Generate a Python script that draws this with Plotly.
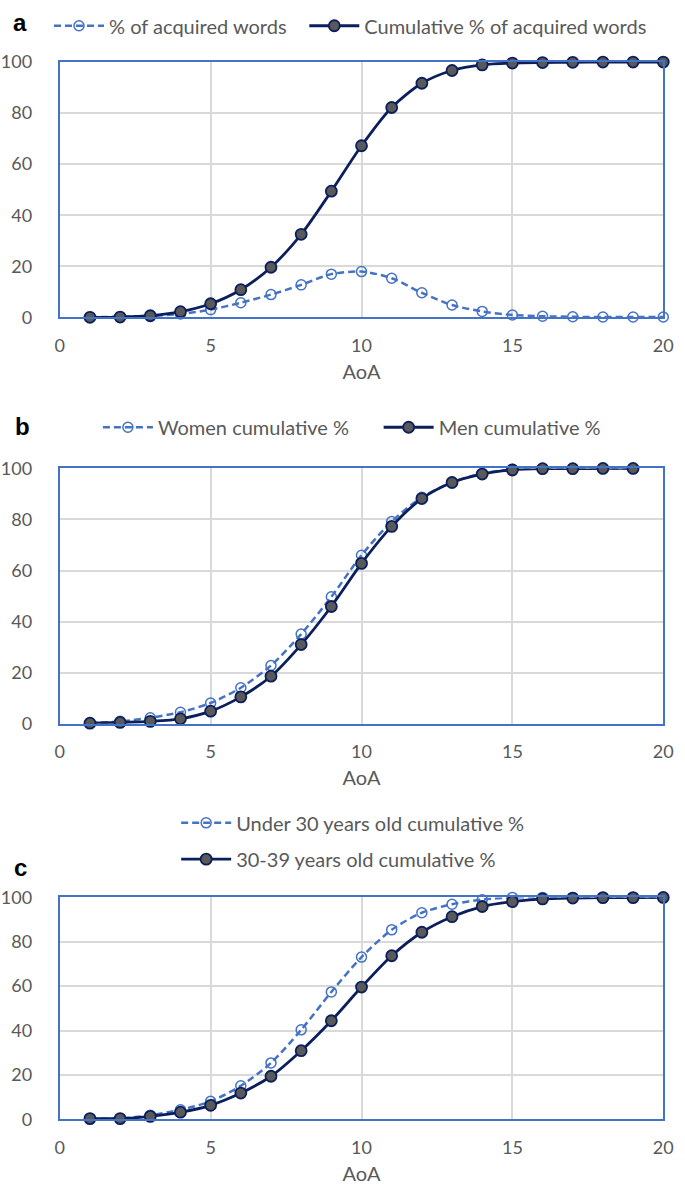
import plotly.graph_objects as go

# ---------------- data ----------------
aoa = list(range(1, 21))
pct_acquired = [0.1, 0.2, 0.5, 1.3, 3.0, 5.7, 8.9, 12.7, 16.9, 17.9,
                15.3, 9.6, 4.8, 2.3, 0.9, 0.4, 0.2, 0.1, 0.1, 0.1]
cum_acquired = [0.0, 0.1, 0.6, 2.2, 5.3, 10.8, 19.6, 32.5, 49.4, 67.2,
                82.2, 91.7, 96.7, 98.9, 99.6, 99.8, 99.9, 100, 100, 100]

aoa_b = list(range(1, 20))
women_cum = [0.3, 0.9, 2.3, 4.5, 8.1, 14.1, 22.8, 35.1, 49.7, 66.0,
             79.2, 88.7, 94.6, 98.0, 99.7, 100, 100, 100, 100]
men_cum = [0.2, 0.5, 0.9, 1.9, 4.9, 10.5, 18.6, 31.0, 45.9, 62.8,
           77.3, 88.2, 94.5, 97.8, 99.4, 99.9, 99.9, 100, 100]

under30_cum = [0.3, 0.4, 1.8, 4.3, 8.1, 15.1, 25.4, 40.3, 57.4, 73.1,
               85.4, 93.1, 96.9, 99.0, 100, 100, 100, 100, 100, 100]
age30_39_cum = [0.3, 0.3, 1.3, 3.2, 6.3, 11.8, 19.4, 30.9, 44.4, 59.6,
                73.7, 84.3, 91.3, 95.9, 98.1, 99.3, 99.7, 99.9, 99.9, 100]

x_ticks = [0, 5, 10, 15, 20]
y_ticks = [0, 20, 40, 60, 80, 100]

# ---------------- styles ----------------
W, H = 685, 1197
BLUE = "#4472C4"
NAVY = "#0B1F5C"
GREY_FILL = "#595959"
TXT = "#595959"
GRID = "#D9D9D9"
FONT = "Lato"


def py(px):
    return 1 - px / H


def px_(x):
    return x / W


def dashed(x, y, name, xa, ya, legend):
    return go.Scatter(
        x=x, y=y, name=name, xaxis=xa, yaxis=ya, legend=legend,
        mode="lines+markers", cliponaxis=False,
        line=dict(color=BLUE, width=2.5, dash="7px,4px", shape="spline", smoothing=0.8),
        marker=dict(symbol="circle-open", size=10, color=BLUE, line=dict(width=1.5, color=BLUE)),
    )


def solid(x, y, name, xa, ya, legend):
    return go.Scatter(
        x=x, y=y, name=name, xaxis=xa, yaxis=ya, legend=legend,
        mode="lines+markers", cliponaxis=False,
        line=dict(color=NAVY, width=2.8, shape="spline", smoothing=0.8),
        marker=dict(symbol="circle", size=11, color=GREY_FILL, line=dict(width=1.8, color=NAVY)),
    )


fig = go.Figure()
fig.add_trace(dashed(aoa, pct_acquired, "% of acquired words", "x", "y", "legend"))
fig.add_trace(solid(aoa, cum_acquired, "Cumulative % of acquired words", "x", "y", "legend2"))
fig.add_trace(dashed(aoa_b, women_cum, "Women cumulative %", "x2", "y2", "legend3"))
fig.add_trace(solid(aoa_b, men_cum, "Men cumulative %", "x2", "y2", "legend4"))
fig.add_trace(dashed(aoa, under30_cum, "Under 30 years old cumulative %", "x3", "y3", "legend5"))
fig.add_trace(solid(aoa, age30_39_cum, "30-39 years old cumulative %", "x3", "y3", "legend6"))

x_dom = [px_(56), px_(673)]
panels = [(51, 311), (465, 725), (902, 1128)]


def xaxis(anchor):
    return dict(
        domain=x_dom, anchor=anchor, range=[0, 20], tickvals=x_ticks,
        showgrid=True, gridcolor=GRID, gridwidth=1.5,
        showline=True, linecolor=BLUE, linewidth=2, mirror=True,
        zeroline=False, ticks="", ticklabelstandoff=11, ticklabeloverflow="allow",
        tickfont=dict(family=FONT, size=18, color=TXT),
        title=dict(text="AoA", font=dict(family=FONT, size=20, color=TXT), standoff=10),
    )


def yaxis(anchor, top, bottom):
    return dict(
        domain=[py(bottom), py(top)], anchor=anchor, range=[0, 100], tickvals=y_ticks,
        showgrid=True, gridcolor=GRID, gridwidth=1.5,
        showline=True, linecolor=BLUE, linewidth=2, mirror=True,
        zeroline=False, ticks="", ticklabelstandoff=22, ticklabeloverflow="allow",
        tickfont=dict(family=FONT, size=18, color=TXT),
    )


def legend(x, y):
    return dict(
        x=px_(x), y=py(y), xanchor="left", yanchor="middle", orientation="h",
        font=dict(family=FONT, size=20, color=TXT), bgcolor="rgba(0,0,0,0)",
        itemwidth=50, borderwidth=0,
    )


fig.update_layout(
    width=W, height=H, margin=dict(l=0, r=0, t=0, b=0),
    paper_bgcolor="white", plot_bgcolor="white",
    font=dict(family=FONT, color=TXT),
    xaxis=xaxis("y"), yaxis=yaxis("x", *panels[0]),
    xaxis2=xaxis("y2"), yaxis2=yaxis("x2", *panels[1]),
    xaxis3=xaxis("y3"), yaxis3=yaxis("x3", *panels[2]),
    legend=legend(45, 14), legend2=legend(306, 14),
    legend3=legend(95, 423), legend4=legend(382, 423),
    legend5=legend(175, 826), legend6=legend(175, 863),
    showlegend=True,
)

for label, x, y in [("a", 15, 11), ("b", 18, 422), ("c", 16, 872)]:
    fig.add_annotation(
        text=f"<b>{label}</b>", x=px_(x), y=py(y), xref="paper", yref="paper",
        xanchor="center", yanchor="middle", showarrow=False,
        font=dict(family="Liberation Sans", size=24, color="black"),
    )

fig.write_html(
    "out.html",
    config={"displayModeBar": False},
    post_script="document.body.style.margin='0';document.body.style.overflow='hidden';",
)
